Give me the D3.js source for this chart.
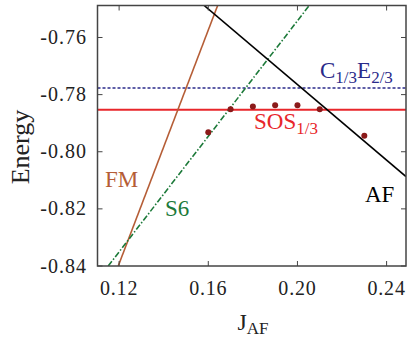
<!DOCTYPE html>
<html>
<head>
<meta charset="utf-8">
<script src="https://cdn.jsdelivr.net/npm/d3@7"></script>
<style>
  body { margin: 0; background: #fff; }
  svg { display: block; font-family: "Liberation Serif", "DejaVu Serif", serif; }
</style>
</head>
<body>
<svg id="chart" width="407" height="339"></svg>
<script>
// data
var xTicks = [0.12, 0.16, 0.20, 0.24];
var xTickLabels = ["0.12", "0.16", "0.20", "0.24"];
var yTicks = [-0.84, -0.82, -0.80, -0.78, -0.76];
var yTickLabels = ["-0.84", "-0.82", "-0.80", "-0.78", "-0.76"];

// straight phases, given as end points [J, E]
var fmLine = [[0.1196, -0.84], [0.1642, -0.7488]];
var s6Line = [[0.1151, -0.84], [0.2053, -0.7488]];
var afLine = [[0.158, -0.7487], [0.2487, -0.8087]];
var cLine = [[0.1103, -0.7777], [0.2487, -0.7777]];
var sosLine = [[0.1103, -0.7853], [0.2487, -0.7853]];

// computed points
var ptJ = [0.16, 0.17, 0.18, 0.19, 0.20, 0.21, 0.23];
var ptE = [-0.7932, -0.7851, -0.7842, -0.7837, -0.7837, -0.7851, -0.7944];

(function () {
  var svg = d3.select("#chart");
  var mLeft = 97.5, mRight = 406, mTop = 5.5, mBottom = 266;

  var x = d3.scaleLinear().domain([0.1103, 0.2487]).range([mLeft, mRight]);
  var y = d3.scaleLinear().domain([-0.84, -0.7488]).range([mBottom, mTop]);

  svg.append("clipPath").attr("id", "clip")
    .append("rect")
    .attr("x", mLeft).attr("y", mTop)
    .attr("width", mRight - mLeft).attr("height", mBottom - mTop);

  var plot = svg.append("g").attr("clip-path", "url(#clip)");
  var line = d3.line().x(function (d) { return x(d[0]); }).y(function (d) { return y(d[1]); });

  plot.append("path").datum(cLine).attr("d", line)
    .attr("fill", "none").attr("stroke", "#2a2a8a").attr("stroke-width", 1.5)
    .attr("stroke-dasharray", "3,2");
  plot.append("path").datum(sosLine).attr("d", line)
    .attr("fill", "none").attr("stroke", "#e8262b").attr("stroke-width", 2);
  plot.append("path").datum(fmLine).attr("d", line)
    .attr("fill", "none").attr("stroke", "#b55d36").attr("stroke-width", 1.6);
  plot.append("path").datum(s6Line).attr("d", line)
    .attr("fill", "none").attr("stroke", "#1d7a3a").attr("stroke-width", 1.6)
    .attr("stroke-dasharray", "6,2,1.5,2");
  plot.append("path").datum(afLine).attr("d", line)
    .attr("fill", "none").attr("stroke", "#000").attr("stroke-width", 1.6);

  plot.selectAll("circle.pt")
    .data(d3.zip(ptJ, ptE))
    .enter().append("circle")
    .attr("class", "pt")
    .attr("cx", function (d) { return x(d[0]); })
    .attr("cy", function (d) { return y(d[1]); })
    .attr("r", 3)
    .attr("fill", "#8b1a1a");

  // frame and inward ticks
  svg.append("rect")
    .attr("x", mLeft).attr("y", mTop)
    .attr("width", mRight - mLeft).attr("height", mBottom - mTop)
    .attr("fill", "none").attr("stroke", "#444").attr("stroke-width", 1.5);

  var tk = 5;
  xTicks.forEach(function (t) {
    svg.append("line").attr("x1", x(t)).attr("x2", x(t)).attr("y1", mBottom).attr("y2", mBottom - tk)
      .attr("stroke", "#444").attr("stroke-width", 1);
    svg.append("line").attr("x1", x(t)).attr("x2", x(t)).attr("y1", mTop).attr("y2", mTop + tk)
      .attr("stroke", "#444").attr("stroke-width", 1);
  });
  yTicks.forEach(function (t) {
    svg.append("line").attr("x1", mLeft).attr("x2", mLeft + tk).attr("y1", y(t)).attr("y2", y(t))
      .attr("stroke", "#444").attr("stroke-width", 1);
    svg.append("line").attr("x1", mRight).attr("x2", mRight - tk).attr("y1", y(t)).attr("y2", y(t))
      .attr("stroke", "#444").attr("stroke-width", 1);
  });

  svg.selectAll("text.xt")
    .data(xTicks).enter().append("text")
    .attr("class", "xt")
    .attr("x", function (d) { return x(d); })
    .attr("y", 295)
    .attr("text-anchor", "middle")
    .attr("font-size", 20).attr("letter-spacing", 0.8).attr("fill", "#222")
    .text(function (d, i) { return xTickLabels[i]; });

  svg.selectAll("text.yt")
    .data(yTicks).enter().append("text")
    .attr("class", "yt")
    .attr("x", 87)
    .attr("y", function (d) { return y(d) + 6.5; })
    .attr("text-anchor", "end")
    .attr("font-size", 20).attr("letter-spacing", 1).attr("fill", "#222")
    .text(function (d, i) { return yTickLabels[i]; });

  // axis titles
  svg.append("text")
    .attr("transform", "translate(29,147) rotate(-90)")
    .attr("text-anchor", "middle")
    .attr("font-size", 26).attr("fill", "#222")
    .text("Energy");

  var xl = svg.append("text")
    .attr("x", 253).attr("y", 330)
    .attr("text-anchor", "middle")
    .attr("font-size", 24).attr("fill", "#222");
  xl.append("tspan").text("J");
  xl.append("tspan").attr("font-size", 17).attr("dy", 4).text("AF");

  // phase labels
  function label(px, py, main, sub, color, main2, sub2) {
    var t = svg.append("text").attr("x", px).attr("y", py)
      .attr("font-size", 23).attr("fill", color);
    t.append("tspan").text(main);
    if (sub) t.append("tspan").attr("font-size", 17).attr("dy", 5).text(sub);
    if (main2) t.append("tspan").attr("dy", -5).text(main2);
    if (sub2) t.append("tspan").attr("font-size", 17).attr("dy", 5).text(sub2);
  }
  label(320, 77.5, "C", "1/3", "#2a2a8a", "E", "2/3");
  label(254, 128.5, "SOS", "1/3", "#e8262b");
  label(105, 186.5, "FM", null, "#b55d36");
  label(165, 216, "S6", null, "#1d7a3a");
  label(365, 201.5, "AF", null, "#000");
})();
</script>
</body>
</html>
